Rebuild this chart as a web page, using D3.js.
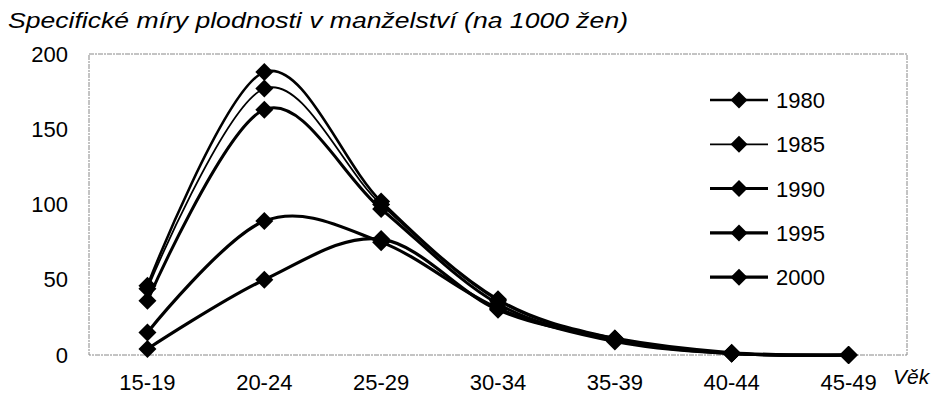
<!DOCTYPE html>
<html>
<head>
<meta charset="utf-8">
<script src="https://cdn.jsdelivr.net/npm/d3@7"></script>
<style>
  body { margin: 0; background: #fff; }
  svg { font-family: "Liberation Sans", Arial, sans-serif; }
</style>
</head>
<body>
<svg width="939" height="403"></svg>
<script>
// vekove skupiny a hodnoty (na 1000 zen)
var ageGroups = ["15-19", "20-24", "25-29", "30-34", "35-39", "40-44", "45-49"];
var years = ["1980", "1985", "1990", "1995", "2000"];
var v1980 = [46, 188, 102, 37, 11, 1, 0];
var v1985 = [44, 177, 100, 36, 10, 1, 0];
var v1990 = [36, 163, 97, 34, 10, 1, 0];
var v1995 = [15, 89, 75, 31, 9, 1, 0];
var v2000 = [4, 50, 77, 30, 11, 1.5, 0];
var yTicks = [0, 50, 100, 150, 200];
var lineWidths = [2.6, 1.8, 3, 3.2, 3.2];

var series = [v1980, v1985, v1990, v1995, v2000].map(function(vals, i) {
  return { year: years[i], values: vals };
});

var svg = d3.select("svg"),
  margin = { top: 54, right: 32, bottom: 48, left: 89 },
  width = +svg.attr("width") - margin.left - margin.right,
  height = +svg.attr("height") - margin.top - margin.bottom,
  g = svg.append("g").attr("transform", "translate(" + margin.left + "," + margin.top + ")");

var x = d3.scaleBand().domain(ageGroups).range([0, width]);
var y = d3.scaleLinear().domain([0, 200]).range([height, 0]);

// ramecek grafu - sedy carkovany
g.append("rect")
  .attr("x", 0).attr("y", 0)
  .attr("width", width).attr("height", height)
  .attr("fill", "none")
  .attr("stroke", "#888")
  .attr("stroke-width", 1)
  .attr("stroke-dasharray", "5,1,2,1");

// osa y
var yAxis = g.append("g").call(d3.axisLeft(y).tickValues(yTicks).tickSize(0).tickPadding(21));
yAxis.select(".domain").remove();
yAxis.selectAll("text").attr("font-size", 22).attr("fill", "#000");

// osa x
var xAxis = g.append("g")
  .attr("transform", "translate(0," + height + ")")
  .call(d3.axisBottom(x).tickSize(0).tickPadding(19));
xAxis.select(".domain").remove();
xAxis.selectAll("text").attr("font-size", 22).attr("fill", "#000");

// nadpis - v predloze je pismo vodorovne roztazene
svg.append("text")
  .attr("x", 8).attr("y", 28)
  .attr("font-size", 22)
  .attr("font-style", "italic")
  .attr("textLength", 620)
  .attr("lengthAdjust", "spacingAndGlyphs")
  .text("Specifické míry plodnosti v manželství (na 1000 žen)");

svg.append("text")
  .attr("x", 893).attr("y", 384)
  .attr("font-size", 21)
  .attr("font-style", "italic")
  .text("Věk");

var diamond = function(r) {
  return "M0," + (-r) + "L" + r + ",0L0," + r + "L" + (-r) + ",0Z";
};

var line = d3.line()
  .x(function(d, i) { return x(ageGroups[i]) + x.bandwidth() / 2; })
  .y(function(d) { return y(d); })
  .curve(d3.curveCatmullRom.alpha(0));

var grp = g.selectAll(".series")
  .data(series)
  .enter().append("g")
  .attr("class", "series");

grp.append("path")
  .attr("d", function(d) { return line(d.values); })
  .attr("fill", "none")
  .attr("stroke", "#000")
  .attr("stroke-width", function(d, i) { return lineWidths[i]; });

grp.selectAll("path.pt")
  .data(function(d) { return d.values; })
  .enter().append("path")
  .attr("class", "pt")
  .attr("d", diamond(9))
  .attr("fill", "#000")
  .attr("transform", function(d, i) {
    return "translate(" + (x(ageGroups[i]) + x.bandwidth() / 2) + "," + y(d) + ")";
  });

// legenda
var legend = svg.append("g")
  .selectAll("g")
  .data(series)
  .enter().append("g")
  .attr("transform", function(d, i) { return "translate(710," + (100 + i * 44.3) + ")"; });

legend.append("line")
  .attr("x1", 0).attr("x2", 58)
  .attr("stroke", "#000")
  .attr("stroke-width", function(d, i) { return lineWidths[i]; });

legend.append("path")
  .attr("d", diamond(8.5))
  .attr("transform", "translate(29,0)")
  .attr("fill", "#000");

legend.append("text")
  .attr("x", 66)
  .attr("dy", "0.36em")
  .attr("font-size", 22)
  .text(function(d) { return d.year; });
</script>
</body>
</html>
